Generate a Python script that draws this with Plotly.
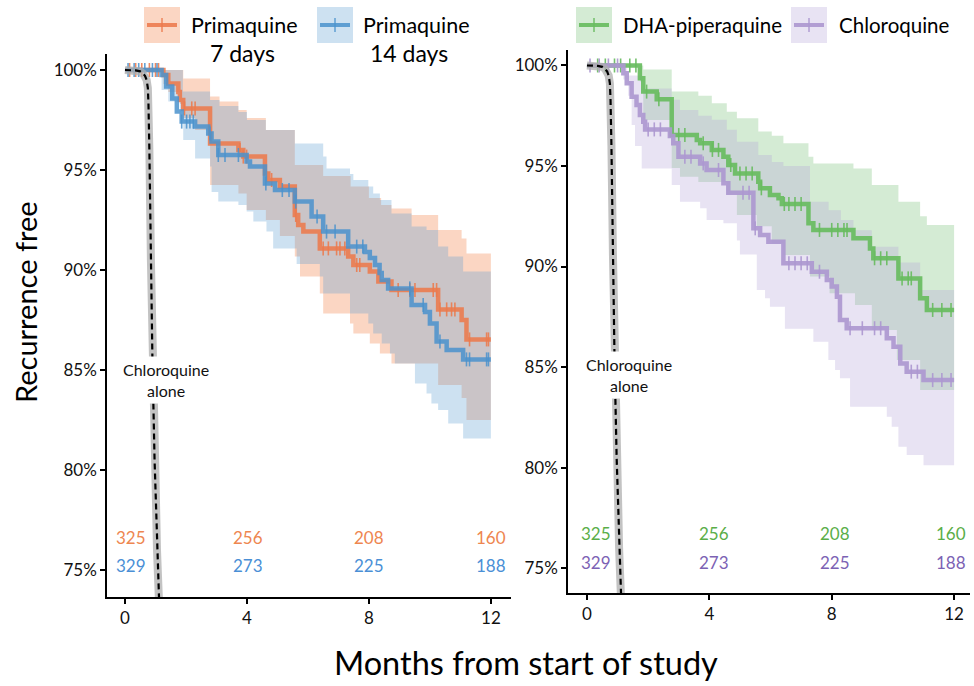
import plotly.graph_objects as go

# ---------------- data ----------------
# Left panel: Primaquine 7 days (orange) and 14 days (blue)
pq7_t = [0, 1.26, 1.42, 1.75, 1.80, 1.91, 2.79, 3.72, 3.88, 4.59, 4.70, 5.08, 5.57, 5.68, 5.85, 6.39, 7.32, 7.49, 8.03, 8.31, 8.74, 10.27, 11.04, 11.20]
pq7_s = [100, 99.75, 99.33, 98.9, 98.5, 98.08, 96.33, 96.0, 95.67, 94.83, 94.5, 94.17, 92.75, 92.25, 91.92, 91.08, 90.67, 90.25, 89.92, 89.42, 89.0, 88.03, 87.5, 86.53]
pq7_up_t = [0, 1.91, 2.79, 3.10, 3.72, 3.99, 4.62, 5.57, 6.50, 7.40, 8.00, 8.40, 8.74, 9.40, 10.27, 11.04, 11.20]
pq7_up = [100, 99.58, 98.67, 98.42, 98.0, 97.6, 97.0, 95.25, 94.7, 94.17, 93.6, 93.25, 93.08, 92.75, 92.0, 91.58, 90.83]
pq7_lo_t = [0, 1.26, 1.42, 1.80, 1.91, 2.30, 2.79, 3.72, 3.99, 4.62, 5.08, 5.57, 5.74, 6.39, 6.50, 7.38, 7.49, 8.03, 8.36, 8.74, 10.27, 11.04, 11.20]
pq7_lo = [100, 99.3, 98.9, 98.3, 97.6, 97.0, 94.25, 93.83, 93.0, 92.5, 91.7, 90.67, 89.67, 88.83, 87.83, 87.33, 86.83, 86.33, 85.83, 85.33, 84.25, 83.6, 82.5]
pq7_cens = [0.15, 0.35, 0.55, 0.8, 1.0, 1.1, 1.95, 2.19, 2.30, 3.77, 3.88, 3.99, 4.81, 5.6, 6.5, 6.67, 6.94, 7.05, 7.21, 7.6, 7.7, 8.96, 9.34, 9.51, 10.11, 10.22, 10.33, 10.55, 10.71, 10.82, 11.3, 11.86, 11.92]

pq14_t = [0, 1.20, 1.35, 1.55, 1.70, 1.86, 2.30, 2.73, 2.84, 3.06, 3.99, 4.10, 4.59, 4.92, 5.57, 6.12, 6.50, 7.32, 7.87, 8.03, 8.20, 8.35, 8.42, 8.63, 9.40, 9.84, 10.00, 10.22, 10.55, 11.09]
pq14_s = [100, 99.75, 99.17, 98.58, 97.92, 97.42, 97.17, 96.83, 96.42, 95.75, 95.42, 95.17, 94.33, 94.0, 93.42, 92.67, 91.92, 91.17, 90.9, 90.6, 90.25, 89.85, 89.5, 89.08, 88.25, 87.9, 87.33, 86.42, 86.0, 85.53]
pq14_up_t = [0, 1.90, 2.79, 3.10, 3.72, 4.00, 4.62, 5.57, 6.50, 6.61, 7.38, 7.49, 7.98, 8.14, 8.36, 8.74, 9.40, 9.89, 10.27, 10.60, 11.09]
pq14_up = [100, 98.92, 98.5, 98.2, 97.9, 97.5, 97.0, 96.33, 95.67, 95.08, 94.8, 94.5, 94.17, 93.83, 93.5, 92.83, 92.17, 92.0, 91.17, 90.67, 89.92]
pq14_lo_t = [0, 1.20, 1.42, 1.80, 1.91, 2.30, 2.79, 2.84, 3.06, 3.72, 3.99, 4.21, 4.64, 4.86, 5.63, 6.39, 6.50, 7.38, 7.98, 8.14, 8.42, 8.69, 8.85, 9.51, 9.89, 10.05, 10.27, 10.60, 11.09]
pq14_lo = [100, 99.0, 98.42, 97.92, 96.5, 95.58, 95.17, 93.9, 93.42, 93.25, 92.92, 92.42, 91.92, 91.08, 90.3, 89.67, 88.83, 87.83, 87.33, 86.83, 86.33, 85.83, 85.33, 84.33, 83.83, 83.33, 83.0, 82.33, 81.58]
pq14_cens = [0.1, 0.3, 0.45, 0.65, 0.9, 1.05, 1.86, 2.02, 2.13, 2.24, 2.79, 3.06, 3.28, 3.72, 4.62, 5.16, 5.38, 5.6, 6.3, 6.61, 6.89, 7.6, 7.8, 9.34, 9.78, 10.33, 11.2, 11.3, 11.86, 11.92]

# Right panel: DHA-piperaquine (green) and Chloroquine (purple)
dha_t = [0, 1.73, 1.84, 2.28, 2.77, 3.59, 3.70, 4.08, 4.46, 4.62, 4.84, 5.60, 5.66, 5.98, 6.26, 6.37, 7.24, 7.40, 8.71, 9.25, 9.36, 10.18, 10.89, 11.11]
dha_s = [100, 99.36, 98.70, 98.32, 96.54, 96.29, 96.13, 95.80, 95.46, 95.05, 94.63, 94.22, 93.89, 93.56, 93.39, 93.11, 92.15, 91.82, 91.40, 90.90, 90.41, 89.41, 88.42, 87.84]
dha_up_t = [0, 1.84, 2.77, 3.64, 4.08, 4.57, 4.90, 5.60, 6.04, 6.42, 7.24, 7.40, 8.71, 9.31, 10.18, 10.89, 11.11]
dha_up = [100, 99.8, 98.7, 98.5, 98.12, 97.7, 97.37, 96.71, 96.5, 96.13, 95.46, 95.13, 94.88, 94.05, 93.22, 92.5, 92.06]
dha_lo_t = [0, 1.73, 1.84, 2.77, 3.04, 3.64, 4.57, 4.90, 5.55, 6.04, 6.42, 7.29, 7.93, 8.76, 9.31, 10.13, 10.89]
dha_lo = [100, 99.2, 97.29, 94.9, 94.47, 94.2, 93.6, 92.56, 92.0, 91.15, 90.57, 89.5, 88.67, 88.08, 86.84, 85.35, 83.86]
dha_cens = [0.35, 0.6, 0.9, 1.1, 1.4, 1.6, 1.95, 2.35, 3.0, 3.2, 3.8, 4.1, 4.3, 4.7, 5.0, 5.2, 5.4, 5.7, 6.45, 6.6, 6.8, 7.0, 7.6, 8.0, 8.2, 8.4, 8.5, 9.4, 9.6, 9.8, 10.3, 10.5, 10.6, 11.3, 11.6, 11.9]

cq_t = [0, 1.19, 1.30, 1.46, 1.62, 1.73, 1.84, 1.90, 2.71, 2.82, 2.99, 3.70, 3.91, 4.46, 4.62, 5.44, 5.66, 5.93, 6.42, 7.35, 7.84, 8.00, 8.17, 8.27, 8.49, 9.80, 10.02, 10.24, 10.45, 11.00]
cq_s = [100, 99.61, 99.11, 98.45, 98.03, 97.54, 97.2, 96.82, 96.49, 96.13, 95.46, 95.13, 94.80, 94.14, 93.67, 91.90, 91.57, 91.23, 90.16, 89.74, 89.33, 89.0, 88.5, 87.34, 86.93, 86.43, 86.01, 85.18, 84.77, 84.35]
cq_up_t = [0, 1.30, 1.79, 2.77, 3.04, 3.64, 4.08, 4.57, 4.90, 5.60, 6.04, 6.42, 7.29, 7.90, 8.30, 8.71, 9.31, 10.18, 10.89]
cq_up = [100, 99.5, 98.86, 98.3, 97.79, 97.5, 97.3, 96.8, 96.21, 95.55, 95.2, 95.0, 93.22, 92.8, 92.31, 91.8, 90.98, 90.2, 88.83]
cq_lo_t = [0, 1.19, 1.35, 1.46, 1.57, 1.79, 2.77, 3.04, 3.70, 3.91, 4.46, 4.90, 5.00, 5.55, 5.82, 5.98, 6.47, 7.40, 7.89, 8.11, 8.27, 8.60, 9.80, 9.96, 10.18, 10.45, 11.00]
cq_lo = [100, 99.3, 98.5, 97.04, 96.0, 94.88, 94.05, 93.22, 92.9, 92.31, 92.15, 91.3, 90.6, 88.83, 88.42, 88.0, 86.9, 86.26, 85.35, 84.85, 84.44, 83.03, 82.53, 82.03, 81.03, 80.62, 80.12]
cq_cens = [0.1, 0.4, 0.7, 1.0, 2.0, 2.2, 2.4, 3.2, 3.4, 3.8, 4.3, 5.1, 5.3, 5.5, 6.6, 6.8, 7.0, 7.2, 7.6, 8.6, 9.0, 9.4, 9.6, 10.6, 10.8, 11.3, 11.6, 11.9]

# Historical "Chloroquine alone" curve
cqa_t = [0, 0.35, 0.50, 0.59, 0.66, 0.71, 0.75, 0.77, 0.80, 0.85, 0.90, 0.97, 1.05, 1.15]
cqa_s = [100, 99.98, 99.93, 99.83, 99.7, 99.5, 99.1, 98.3, 96.0, 90.5, 85.5, 80.5, 76.0, 72.0]

t_end = 12.0
risk_months = [0, 4, 8, 12]
risk_pq7 = ["325", "256", "208", "160"]
risk_pq14 = ["329", "273", "225", "188"]
risk_dha = ["325", "256", "208", "160"]
risk_cq = ["329", "273", "225", "188"]

y_ticks = [75, 80, 85, 90, 95, 100]
y_ticktext = ["75%", "80%", "85%", "90%", "95%", "100%"]
x_ticks = [0, 4, 8, 12]

# ---------------- styles ----------------
FONT = "Lato, 'Liberation Sans', sans-serif"
C_OR = "rgba(236,122,76,0.88)"
F_OR = "rgba(245,140,90,0.36)"
C_BL = "rgba(74,146,204,0.85)"
F_BL = "rgba(90,155,210,0.30)"
C_GR = "rgba(104,188,96,0.92)"
F_GR = "rgba(120,192,120,0.32)"
C_PU = "rgba(172,152,208,0.92)"
F_PU = "rgba(178,162,214,0.30)"
T_OR = "#EE8650"
T_BL = "#4A8FD6"
T_GR = "#5AAE48"
T_PU = "#7C62B4"

W, H = 974, 686


def step_val(ts, vs, x):
    v = vs[0]
    for t, s in zip(ts, vs):
        if t <= x:
            v = s
    return v


def ext(ts, vs):
    return list(ts) + [t_end], list(vs) + [vs[-1]]


fig = go.Figure()


def add_band(t_up, v_up, t_lo, v_lo, fill, xa, ya):
    xu, yu = ext(t_up, v_up)
    xl, yl = ext(t_lo, v_lo)
    fig.add_trace(go.Scatter(x=xu, y=yu, mode="lines", line=dict(width=0, shape="hv"),
                             showlegend=False, hoverinfo="skip", xaxis=xa, yaxis=ya))
    fig.add_trace(go.Scatter(x=xl, y=yl, mode="lines", line=dict(width=0, shape="hv"),
                             fill="tonexty", fillcolor=fill, showlegend=False,
                             hoverinfo="skip", xaxis=xa, yaxis=ya))


def add_curve(ts, vs, cens, color, xa, ya):
    x, y = ext(ts, vs)
    fig.add_trace(go.Scatter(x=x, y=y, mode="lines", line=dict(width=4.5, shape="hv", color=color),
                             showlegend=False, xaxis=xa, yaxis=ya))
    fig.add_trace(go.Scatter(x=cens, y=[step_val(ts, vs, c) for c in cens], mode="markers",
                             marker=dict(symbol="line-ns", size=10,
                                         line=dict(width=1.6, color=color)),
                             showlegend=False, xaxis=xa, yaxis=ya))


def add_cq_alone(xa, ya):
    fig.add_trace(go.Scatter(x=cqa_t, y=cqa_s, mode="lines",
                             line=dict(width=8, color="rgba(175,175,175,0.75)"),
                             showlegend=False, xaxis=xa, yaxis=ya))
    fig.add_trace(go.Scatter(x=cqa_t, y=cqa_s, mode="lines",
                             line=dict(width=2.2, color="black", dash="6px,4px"),
                             showlegend=False, xaxis=xa, yaxis=ya))


# left panel
add_band(pq7_up_t, pq7_up, pq7_lo_t, pq7_lo, F_OR, "x", "y")
add_band(pq14_up_t, pq14_up, pq14_lo_t, pq14_lo, F_BL, "x", "y")
add_curve(pq7_t, pq7_s, pq7_cens, C_OR, "x", "y")
add_curve(pq14_t, pq14_s, pq14_cens, C_BL, "x", "y")
add_cq_alone("x", "y")

# right panel
add_band(dha_up_t, dha_up, dha_lo_t, dha_lo, F_GR, "x2", "y2")
add_band(cq_up_t, cq_up, cq_lo_t, cq_lo, F_PU, "x2", "y2")
add_curve(dha_t, dha_s, dha_cens, C_GR, "x2", "y2")
add_curve(cq_t, cq_s, cq_cens, C_PU, "x2", "y2")
add_cq_alone("x2", "y2")

axis_common = dict(showline=True, linecolor="black", linewidth=1.5, ticks="outside",
                   ticklen=5, tickwidth=1.5, tickcolor="black", showgrid=False,
                   zeroline=False, tickfont=dict(family=FONT, size=17, color="#111"))

fig.update_layout(
    width=W, height=H, margin=dict(l=0, r=0, t=0, b=0),
    paper_bgcolor="white", plot_bgcolor="white", showlegend=False,
    xaxis=dict(domain=[107 / W, 511 / W], range=[-0.59, 12.66], tickvals=x_ticks,
               anchor="y", **axis_common),
    yaxis=dict(domain=[1 - 597 / H, 1 - 54 / H], range=[73.65, 100.8], tickvals=y_ticks,
               ticktext=y_ticktext, anchor="x", **axis_common),
    xaxis2=dict(domain=[568 / W, 970 / W], range=[-0.62, 12.52], tickvals=x_ticks,
                anchor="y2", **axis_common),
    yaxis2=dict(domain=[1 - 593 / H, 1 - 50 / H], range=[73.76, 100.77], tickvals=y_ticks,
                ticktext=y_ticktext, anchor="x2", **axis_common),
)

ann = []
# at-risk numbers
risk_xshift = [0.2, 0.05, 0, 0]
for i, m in enumerate(risk_months):
    ann.append(dict(x=m + risk_xshift[i], y=76.65, xref="x", yref="y", text=risk_pq7[i],
                    xanchor="center", yanchor="middle",
                    showarrow=False, font=dict(family=FONT, size=17, color=T_OR)))
    ann.append(dict(x=m + risk_xshift[i], y=75.25, xref="x", yref="y", text=risk_pq14[i],
                    xanchor="center", yanchor="middle",
                    showarrow=False, font=dict(family=FONT, size=17, color=T_BL)))
    ann.append(dict(x=m + risk_xshift[i] + (0.1 if i < 3 else -0.1), y=76.72, xref="x2", yref="y2",
                    text=risk_dha[i], xanchor="center", yanchor="middle",
                    showarrow=False, font=dict(family=FONT, size=17, color=T_GR)))
    ann.append(dict(x=m + risk_xshift[i] + (0.1 if i < 3 else -0.1), y=75.3, xref="x2", yref="y2",
                    text=risk_cq[i], xanchor="center", yanchor="middle",
                    showarrow=False, font=dict(family=FONT, size=17, color=T_PU)))

# chloroquine alone labels
for xr, yr, yv in [("x", "y", 84.5), ("x2", "y2", 84.6)]:
    ann.append(dict(x=1.36, y=yv, xref=xr, yref=yr, text="Chloroquine<br>alone",
                    xanchor="center", yanchor="middle",
                    showarrow=False, bgcolor="white", borderpad=3,
                    font=dict(family=FONT, size=16, color="#111")))

# axis titles
ann.append(dict(x=25 / W, y=1 - 302 / H, xref="paper", yref="paper", text="Recurrence free",
                xanchor="center", yanchor="middle",
                textangle=-90, showarrow=False, font=dict(family=FONT, size=29, color="black")))
ann.append(dict(x=526 / W, y=1 - 662 / H, xref="paper", yref="paper",
                text="Months from start of study", xanchor="center", yanchor="middle",
                showarrow=False, font=dict(family=FONT, size=32.5, color="black")))

# custom legends
shapes = []


def legend_item(x0, fill, color, labels, label_x, two_line_center=None):
    shapes.append(dict(type="rect", xref="paper", yref="paper", x0=x0 / W, x1=(x0 + 36) / W,
                       y0=1 - 43 / H, y1=1 - 7 / H, fillcolor=fill, line=dict(width=0),
                       layer="above"))
    shapes.append(dict(type="line", xref="paper", yref="paper", x0=(x0 + 3) / W, x1=(x0 + 33) / W,
                       y0=1 - 25 / H, y1=1 - 25 / H, line=dict(color=color, width=4)))
    shapes.append(dict(type="line", xref="paper", yref="paper", x0=(x0 + 18) / W, x1=(x0 + 18) / W,
                       y0=1 - 18 / H, y1=1 - 32 / H, line=dict(color=color, width=1.5)))
    ann.append(dict(x=label_x / W, y=1 - 25 / H, xref="paper", yref="paper", text=labels[0],
                    xanchor="left", yanchor="middle", showarrow=False,
                    font=dict(family=FONT, size=21.5 if two_line_center else 20.5, color="black")))
    if two_line_center is not None:
        ann.append(dict(x=two_line_center / W, y=1 - 53 / H, xref="paper", yref="paper",
                        text=labels[1], xanchor="center", yanchor="middle", showarrow=False,
                        font=dict(family=FONT, size=23, color="black")))


legend_item(144, F_OR, C_OR, ["Primaquine", "7 days"], 189, 242)
legend_item(317, F_BL, C_BL, ["Primaquine", "14 days"], 361, 409)
legend_item(576, F_GR, C_GR, ["DHA-piperaquine"], 621)
legend_item(791, F_PU, C_PU, ["Chloroquine"], 837)

fig.update_layout(annotations=ann, shapes=shapes)

fig.write_html("out.html", config={"displayModeBar": False},
               post_script="document.body.style.margin='0px';")
